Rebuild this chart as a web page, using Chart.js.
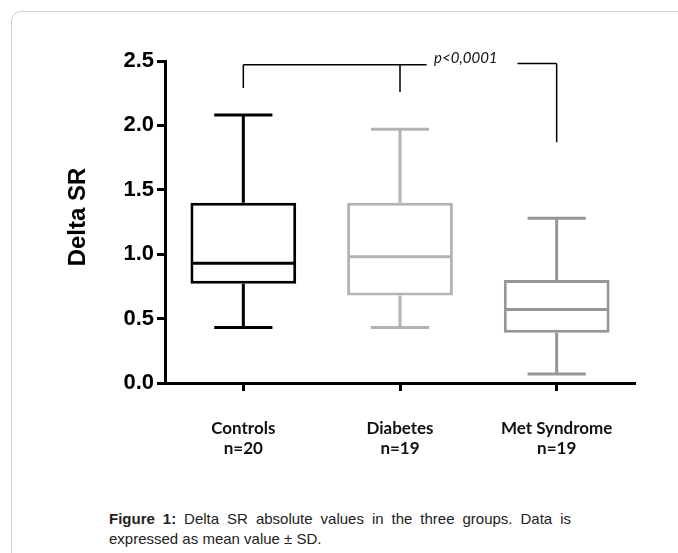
<!DOCTYPE html>
<html>
<head>
<meta charset="utf-8">
<script src="https://cdn.jsdelivr.net/npm/chart.js@4.4.0/dist/chart.umd.min.js"></script>
<style>
  html, body { margin: 0; padding: 0; background: #fff; }
  body { width: 678px; height: 553px; position: relative; overflow: hidden; }
  #frame {
    position: absolute; left: 11px; top: 11px; width: 720px; height: 600px;
    border: 1.5px solid #cfcfcf; border-radius: 10px; box-sizing: border-box;
  }
  #wrap { position: absolute; left: 0; top: 0; width: 678px; height: 500px; }
  #caption {
    position: absolute; left: 109px; top: 509px; width: 462px;
    font-family: "Liberation Sans", Arial, sans-serif; font-size: 15px;
    line-height: 20px; color: #222;
  }
  #caption .l1 { text-align: justify; text-align-last: justify; }
</style>
</head>
<body>
<div id="frame"></div>
<div id="wrap"><canvas id="chart" width="678" height="500"></canvas></div>
<div id="caption"><div class="l1"><b>Figure 1:</b> Delta SR absolute values in the three groups. Data is</div><div>expressed as mean value ± SD.</div></div>
<script>
  const categories = ["Controls", "Diabetes", "Met Syndrome"];
  const groupSizes = ["n=20", "n=19", "n=19"];
  const mins = [0.43, 0.43, 0.07];
  const q1 = [0.77, 0.68, 0.39];
  const medians = [0.93, 0.98, 0.57];
  const q3 = [1.40, 1.40, 0.80];
  const maxs = [2.08, 1.97, 1.28];
  const boxColors = ["#000000", "#b3b3b3", "#969696"];
  const yTicks = [0, 0.5, 1.0, 1.5, 2.0, 2.5];

  // significance bracket, in category index / value units
  const bracketLines = [
    [0, 2.29, 0, 2.47],
    [0, 2.47, 1.17, 2.47],
    [1, 2.47, 1, 2.26],
    [1.75, 2.48, 2, 2.48],
    [2, 2.48, 2, 1.87],
  ];
  const pLabel = "p<0,0001";

  const boxPlugin = {
    id: "boxes",
    afterDatasetsDraw(chart) {
      const { ctx, scales: { x, y } } = chart;
      const meta = chart.getDatasetMeta(0);
      meta.data.forEach((bar, i) => {
        const cx = x.getPixelForValue(i);
        const half = bar.width / 2;
        const cap = bar.width * 0.275;
        ctx.save();
        ctx.strokeStyle = boxColors[i];
        ctx.lineWidth = 3;
        ctx.beginPath();
        ctx.moveTo(cx, y.getPixelForValue(q3[i]));
        ctx.lineTo(cx, y.getPixelForValue(maxs[i]));
        ctx.moveTo(cx - cap, y.getPixelForValue(maxs[i]));
        ctx.lineTo(cx + cap, y.getPixelForValue(maxs[i]));
        ctx.moveTo(cx, y.getPixelForValue(q1[i]));
        ctx.lineTo(cx, y.getPixelForValue(mins[i]));
        ctx.moveTo(cx - cap, y.getPixelForValue(mins[i]));
        ctx.lineTo(cx + cap, y.getPixelForValue(mins[i]));
        ctx.moveTo(cx - half + 1.5, y.getPixelForValue(medians[i]));
        ctx.lineTo(cx + half - 1.5, y.getPixelForValue(medians[i]));
        ctx.stroke();
        ctx.restore();
      });

      // bracket + p value
      ctx.save();
      ctx.strokeStyle = "#000";
      ctx.lineWidth = 1.5;
      ctx.beginPath();
      bracketLines.forEach(([x1, y1, x2, y2]) => {
        ctx.moveTo(x.getPixelForValue(x1), y.getPixelForValue(y1));
        ctx.lineTo(x.getPixelForValue(x2), y.getPixelForValue(y2));
      });
      ctx.stroke();
      ctx.fillStyle = "#111";
      ctx.font = "italic 15px Lato, 'Open Sans', sans-serif";
      ctx.textAlign = "center";
      ctx.textBaseline = "middle";
      ctx.fillText(pLabel, x.getPixelForValue(1.42), y.getPixelForValue(2.52));

      // y axis title
      ctx.translate(78, 217);
      ctx.rotate(-Math.PI / 2);
      ctx.fillStyle = "#000";
      ctx.font = "bold 24px 'Liberation Sans', Arial, sans-serif";
      ctx.fillText("Delta SR", 0, 0);
      ctx.restore();
    },
  };

  new Chart(document.getElementById("chart"), {
    type: "bar",
    data: {
      labels: categories.map((c, i) => [c, groupSizes[i]]),
      datasets: [
        {
          data: categories.map((c, i) => [q1[i], q3[i]]),
          backgroundColor: "#ffffff",
          borderColor: boxColors,
          borderWidth: 3,
          borderSkipped: false,
          barPercentage: 0.675,
          categoryPercentage: 1,
        },
      ],
    },
    options: {
      responsive: false,
      animation: false,
      layout: { padding: { left: 0, top: 61, right: 43, bottom: 0 } },
      plugins: { legend: { display: false }, tooltip: { enabled: false } },
      scales: {
        x: {
          offset: true,
          afterFit: (s) => { s.height = 117; },
          grid: {
            offset: false,
            drawOnChartArea: false,
            color: "#000",
            tickLength: 8,
            tickWidth: 3,
          },
          border: { display: true, color: "#000", width: 3 },
          ticks: {
            color: "#111",
            padding: 27,
            font: { family: "Lato, 'Open Sans', sans-serif", size: 17, weight: "bold", lineHeight: 1.2 },
          },
        },
        y: {
          min: 0,
          max: 2.5,
          afterFit: (s) => { s.width = 165; },
          afterBuildTicks: (s) => { s.ticks = yTicks.map((v) => ({ value: v })); },
          grid: {
            drawOnChartArea: false,
            color: "#000",
            tickLength: 8,
            tickWidth: 3,
          },
          border: { display: true, color: "#000", width: 3 },
          ticks: {
            color: "#000",
            padding: 3,
            font: { family: "'Liberation Sans', Arial, sans-serif", size: 22, weight: "bold" },
            callback: (v) => Number(v).toFixed(1),
          },
        },
      },
    },
    plugins: [boxPlugin],
  });
</script>
</body>
</html>
